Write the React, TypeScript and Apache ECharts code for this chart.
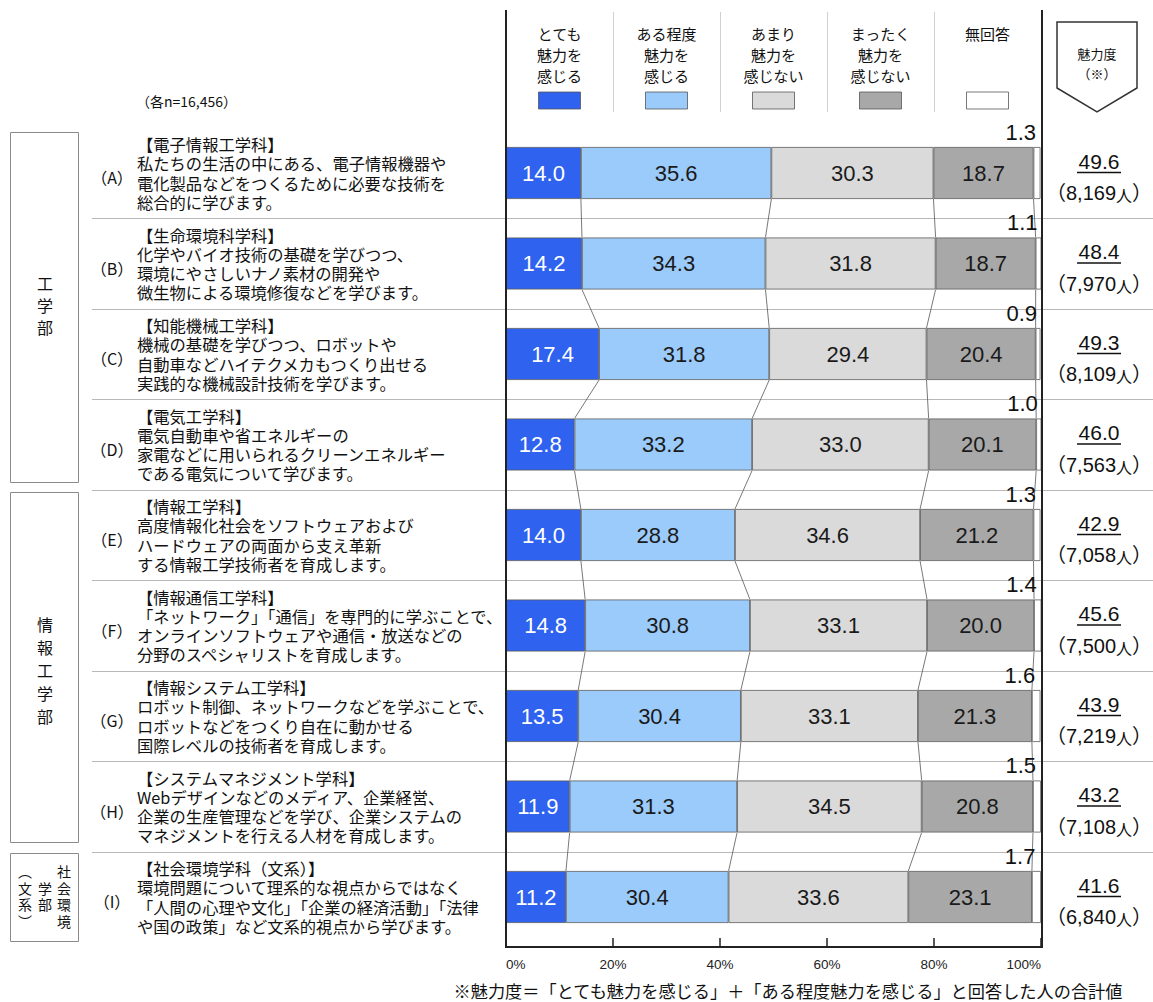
import React, { useEffect, useRef } from "react";
import * as echarts from "echarts";

// ---------- data ----------
const categories = ["A", "B", "C", "D", "E", "F", "G", "H", "I"];
const rowLetters = ["A", "B", "C", "D", "E", "F", "G", "H", "I"];
const veryAttractive = [14.0, 14.2, 17.4, 12.8, 14.0, 14.8, 13.5, 11.9, 11.2];
const somewhatAttractive = [35.6, 34.3, 31.8, 33.2, 28.8, 30.8, 30.4, 31.3, 30.4];
const notVeryAttractive = [30.3, 31.8, 29.4, 33.0, 34.6, 33.1, 33.1, 34.5, 33.6];
const notAtAllAttractive = [18.7, 18.7, 20.4, 20.1, 21.2, 20.0, 21.3, 20.8, 23.1];
const noAnswer = [1.3, 1.1, 0.9, 1.0, 1.3, 1.4, 1.6, 1.5, 1.7];
const attractiveness = [49.6, 48.4, 49.3, 46.0, 42.9, 45.6, 43.9, 43.2, 41.6];
const respondents = [8169, 7970, 8109, 7563, 7058, 7500, 7219, 7108, 6840];

const seriesNames = ["とても魅力を感じる", "ある程度魅力を感じる", "あまり魅力を感じない", "まったく魅力を感じない", "無回答"];
const legendLabels = ["とても\n魅力を\n感じる", "ある程度\n魅力を\n感じる", "あまり\n魅力を\n感じない", "まったく\n魅力を\n感じない", "無回答"];
const seriesColors = ["#2E62EF", "#9BCBFB", "#DADADA", "#A8A8A8", "#FFFFFF"];

const departmentTitles = [
  "【電子情報工学科】",
  "【生命環境科学科】",
  "【知能機械工学科】",
  "【電気工学科】",
  "【情報工学科】",
  "【情報通信工学科】",
  "【情報システム工学科】",
  "【システムマネジメント学科】",
  "【社会環境学科（文系）】",
];
const departmentDescriptions = [
  ["私たちの生活の中にある、電子情報機器や", "電化製品などをつくるために必要な技術を", "総合的に学びます。"],
  ["化学やバイオ技術の基礎を学びつつ、", "環境にやさしいナノ素材の開発や", "微生物による環境修復などを学びます。"],
  ["機械の基礎を学びつつ、ロボットや", "自動車などハイテクメカもつくり出せる", "実践的な機械設計技術を学びます。"],
  ["電気自動車や省エネルギーの", "家電などに用いられるクリーンエネルギー", "である電気について学びます。"],
  ["高度情報化社会をソフトウェアおよび", "ハードウェアの両面から支え革新", "する情報工学技術者を育成します。"],
  ["「ネットワーク」「通信」を専門的に学ぶことで、", "オンラインソフトウェアや通信・放送などの", "分野のスペシャリストを育成します。"],
  ["ロボット制御、ネットワークなどを学ぶことで、", "ロボットなどをつくり自在に動かせる", "国際レベルの技術者を育成します。"],
  ["Webデザインなどのメディア、企業経営、", "企業の生産管理などを学び、企業システムの", "マネジメントを行える人材を育成します。"],
  ["環境問題について理系的な視点からではなく", "「人間の心理や文化」「企業の経済活動」「法律", "や国の政策」など文系的視点から学びます。"],
];

const sampleNote = "（各n=16,456）";
const footnote = "※魅力度＝「とても魅力を感じる」＋「ある程度魅力を感じる」と回答した人の合計値";
const xTickValues = [0, 20, 40, 60, 80, 100];

// ---------- layout ----------
const W = 1153;
const H = 1002;
const GRID_LEFT = 506;
const GRID_W = 535;
const GRID_TOP = 127.75;
const GRID_H = 814.5;
const FRAME_BOTTOM = 947;
const BAR_W = 52;
const RIGHT_X = 1099;
const TEXT_LH = 19.3;
const JP = "'Noto Sans CJK JP', sans-serif";
const NUM = "'Liberation Sans', Arial, sans-serif";
const NUMJP = "'Liberation Sans', 'Noto Sans CJK JP', sans-serif";

const seriesData = [veryAttractive, somewhatAttractive, notVeryAttractive, notAtAllAttractive, noAnswer];

// cumulative boundaries per row (after each of the first 4 segments)
const cumulative = categories.map((_, r) => {
  const out: number[] = [];
  let s = 0;
  for (let k = 0; k < 4; k++) {
    s += seriesData[k][r];
    out.push(s);
  }
  return out;
});

export default function App() {
  const ref = useRef<HTMLDivElement>(null);

  useEffect(() => {
    if (!ref.current) return;
    const chart = echarts.init(ref.current, undefined, { renderer: "svg" });

    const barSeries = seriesNames.map((name, k) => ({
      name,
      type: "bar",
      stack: "total",
      barWidth: BAR_W,
      data: seriesData[k],
      z: 3,
      itemStyle: { color: seriesColors[k], borderColor: "#5a5a5a", borderWidth: 0.8 },
      label:
        k === 4
          ? {
              show: true,
              position: "top",
              align: "right",
              distance: 4,
              offset: [-1, 0],
              formatter: (p: any) => Number(p.value).toFixed(1),
              fontSize: 22,
              fontFamily: NUM,
              color: "#111",
            }
          : {
              show: true,
              position: "inside",
              formatter: (p: any) => Number(p.value).toFixed(1),
              fontSize: 22,
              fontFamily: NUM,
              color: k === 0 ? "#ffffff" : "#1a1a1a",
            },
    }));

    const rowData = categories.map((_, i) => [0, i]);

    const separatorSeries = {
      type: "custom",
      silent: true,
      z: 1,
      clip: false,
      encode: { x: 0, y: 1 },
      data: rowData.slice(1),
      renderItem: (params: any, api: any) => {
        const r = params.dataIndex + 1;
        const [, y] = api.coord([0, r]);
        const band = api.size([0, 1])[1];
        const yy = Math.round(y - band / 2) + 0.5;
        return {
          type: "line",
          shape: { x1: 92, y1: yy, x2: W, y2: yy },
          style: { stroke: "#b8b8b8", lineWidth: 1 },
        };
      },
    };

    const connectorSeries = {
      type: "custom",
      silent: true,
      z: 2,
      clip: false,
      encode: { x: 0, y: 1 },
      data: rowData.slice(0, -1),
      renderItem: (params: any, api: any) => {
        const r = params.dataIndex;
        const children = cumulative[r].map((c, k) => {
          const p1 = api.coord([c, r]);
          const p2 = api.coord([cumulative[r + 1][k], r + 1]);
          return {
            type: "line",
            shape: { x1: p1[0], y1: p1[1] + BAR_W / 2, x2: p2[0], y2: p2[1] - BAR_W / 2 },
            style: { stroke: "#555", lineWidth: 0.8 },
          };
        });
        return { type: "group", children };
      },
    };

    const leftTextSeries = {
      type: "custom",
      silent: true,
      z: 4,
      clip: false,
      encode: { x: 0, y: 1 },
      data: rowData,
      renderItem: (params: any, api: any) => {
        const r = params.dataIndex;
        const [, y] = api.coord([0, r]);
        const lines = [departmentTitles[r], ...departmentDescriptions[r]];
        const children: any[] = [
          {
            type: "text",
            x: 112,
            y: y + 4,
            style: {
              text: `（${rowLetters[r]}）`,
              fontSize: 16,
              fontFamily: JP,
              fill: "#111",
              align: "center",
              verticalAlign: "middle",
            },
          },
        ];
        lines.forEach((ln, j) => {
          children.push({
            type: "text",
            x: 137,
            y: y + (j - (lines.length - 1) / 2) * TEXT_LH,
            style: {
              text: ln,
              fontSize: 16.3,
              fontFamily: JP,
              fill: "#111",
              align: "left",
              verticalAlign: "middle",
            },
          });
        });
        return { type: "group", children };
      },
    };

    const rightSeries = {
      type: "custom",
      silent: true,
      z: 4,
      clip: false,
      encode: { x: 0, y: 1 },
      data: rowData,
      renderItem: (params: any, api: any) => {
        const r = params.dataIndex;
        const [, y] = api.coord([0, r]);
        return {
          type: "group",
          children: [
            {
              type: "text",
              x: RIGHT_X,
              y: y - 12,
              style: {
                text: attractiveness[r].toFixed(1),
                fontSize: 21,
                fontFamily: NUM,
                fill: "#111",
                align: "center",
                verticalAlign: "middle",
              },
            },
            {
              type: "line",
              shape: { x1: RIGHT_X - 22, y1: y - 0.5, x2: RIGHT_X + 22, y2: y - 0.5 },
              style: { stroke: "#111", lineWidth: 1.6 },
            },
            {
              type: "text",
              x: RIGHT_X,
              y: y + 20,
              style: {
                text: `{a|（${respondents[r].toLocaleString("en-US")}}{b|人}{a|）}`,
                fontSize: 20,
                fontFamily: NUMJP,
                fill: "#111",
                align: "center",
                verticalAlign: "middle",
                rich: {
                  a: { fontSize: 20, fontFamily: NUMJP, fill: "#111" },
                  b: { fontSize: 16, fontFamily: JP, fill: "#111", verticalAlign: "bottom" },
                },
              },
            },
          ],
        };
      },
    };

    const colW = GRID_W / 5;
    const legendGraphics: any[] = [];
    for (let i = 1; i < 5; i++) {
      const x = Math.round(GRID_LEFT + colW * i) + 0.5;
      legendGraphics.push({
        type: "line",
        shape: { x1: x, y1: 12, x2: x, y2: 112 },
        style: { stroke: "#d0d0d0", lineWidth: 1 },
      });
    }
    legendLabels.forEach((lab, i) => {
      const cx = GRID_LEFT + colW * (i + 0.5);
      lab.split("\n").forEach((ln, j) => {
        legendGraphics.push({
          type: "text",
          x: cx,
          y: 33 + j * 21,
          style: {
            text: ln,
            fontSize: 15,
            fontFamily: JP,
            fill: "#111",
            align: "center",
            verticalAlign: "middle",
          },
        });
      });
      legendGraphics.push({
        type: "rect",
        shape: { x: cx - 21, y: 92, width: 42, height: 17 },
        style: { fill: seriesColors[i], stroke: "#555", lineWidth: 0.8 },
      });
    });

    const groupBoxes = [
      { y1: 132, y2: 482, chars: ["工", "学", "部"], cx: 45, cy: 305, lh: 22 },
      { y1: 492, y2: 842, chars: ["情", "報", "工", "学", "部"], cx: 45, cy: 670, lh: 23 },
    ];
    const groupGraphics: any[] = [];
    const pushColumn = (chars: string[], cx: number, cy: number, lh: number, size: number) => {
      chars.forEach((ch, j) => {
        groupGraphics.push({
          type: "text",
          x: cx,
          y: cy + (j - (chars.length - 1) / 2) * lh,
          style: {
            text: ch,
            fontSize: size,
            fontFamily: JP,
            fill: "#111",
            align: "center",
            verticalAlign: "middle",
          },
        });
      });
    };
    groupBoxes.forEach((g) => {
      groupGraphics.push({
        type: "rect",
        shape: { x: 10.5, y: g.y1 + 0.5, width: 68, height: g.y2 - g.y1 },
        style: { fill: "none", stroke: "#8a8a8a", lineWidth: 1 },
      });
      pushColumn(g.chars, g.cx, g.cy, g.lh, 16);
    });
    groupGraphics.push({
      type: "rect",
      shape: { x: 10.5, y: 853.5, width: 68, height: 88 },
      style: { fill: "none", stroke: "#8a8a8a", lineWidth: 1 },
    });
    pushColumn(["社", "会", "環", "境"], 64, 896, 16.5, 14);
    pushColumn(["学", "部"], 45, 896, 16.5, 14);
    pushColumn(["︵", "文", "系", "︶"], 25, 896, 16.5, 14);

    const option: any = {
      animation: false,
      backgroundColor: "#ffffff",
      grid: { left: GRID_LEFT, top: GRID_TOP, width: GRID_W, height: GRID_H, containLabel: false },
      xAxis: {
        type: "value",
        min: xTickValues[0],
        max: xTickValues[xTickValues.length - 1],
        interval: 20,
        offset: FRAME_BOTTOM - (GRID_TOP + GRID_H),
        axisLine: { show: true, lineStyle: { color: "#222", width: 2 } },
        axisTick: { show: true, inside: true, length: 9, lineStyle: { color: "#222", width: 1.5 } },
        axisLabel: {
          formatter: "{value}%",
          fontSize: 13.5,
          fontFamily: NUM,
          color: "#222",
          margin: 10,
          alignMinLabel: "left",
          alignMaxLabel: "right",
        },
        splitLine: { show: false },
      },
      yAxis: {
        type: "category",
        data: categories,
        inverse: true,
        show: false,
      },
      series: [separatorSeries, connectorSeries, ...barSeries, leftTextSeries, rightSeries],
      graphic: [
        {
          type: "line",
          shape: { x1: GRID_LEFT, y1: 10, x2: GRID_LEFT, y2: FRAME_BOTTOM + 1 },
          style: { stroke: "#222", lineWidth: 2 },
          z: 10,
        },
        {
          type: "line",
          shape: { x1: GRID_LEFT + GRID_W + 1, y1: 10, x2: GRID_LEFT + GRID_W + 1, y2: FRAME_BOTTOM + 1 },
          style: { stroke: "#222", lineWidth: 2 },
          z: 10,
        },
        ...legendGraphics,
        {
          type: "polygon",
          shape: {
            points: [
              [1057, 22],
              [1137, 22],
              [1137, 88],
              [1097, 112],
              [1057, 88],
            ],
          },
          style: { fill: "#fff", stroke: "#333", lineWidth: 1.5 },
        },
        {
          type: "text",
          x: 1097,
          y: 53,
          style: { text: "魅力度", fontSize: 13, fontFamily: JP, fill: "#111", align: "center", verticalAlign: "middle" },
        },
        {
          type: "text",
          x: 1097,
          y: 73,
          style: { text: "（※）", fontSize: 13, fontFamily: JP, fill: "#111", align: "center", verticalAlign: "middle" },
        },
        {
          type: "text",
          x: 136,
          y: 101,
          style: { text: sampleNote, fontSize: 14, fontFamily: JP, fill: "#111", align: "left", verticalAlign: "middle" },
        },
        ...groupGraphics,
        {
          type: "text",
          x: 788,
          y: 990,
          style: { text: footnote, fontSize: 17.2, fontFamily: JP, fill: "#111", align: "center", verticalAlign: "middle" },
        },
      ],
    };

    chart.setOption(option);
    return () => chart.dispose();
  }, []);

  return (
    <div
      ref={ref}
      style={{ position: "absolute", left: 0, top: 0, width: W, height: H, background: "#fff" }}
    />
  );
}
